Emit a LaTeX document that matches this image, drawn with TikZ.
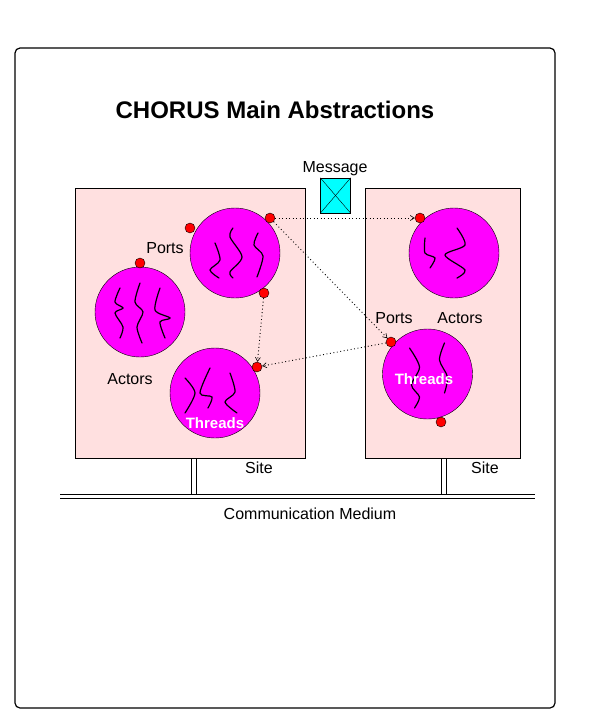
\documentclass[tikz,border=0pt]{standalone}
\usepackage{fontspec}
\setmainfont{Liberation Sans}
\usetikzlibrary{arrows.meta}

\definecolor{sitepink}{RGB}{255,224,224}
\definecolor{actormag}{RGB}{255,0,255}
\definecolor{portred}{RGB}{255,0,0}
\definecolor{msgcyan}{RGB}{0,255,255}

\tikzset{
  site/.style={draw,fill=sitepink,minimum width=230pt,minimum height=270pt,inner sep=0pt},
  actor/.style={circle,draw,fill=actormag,minimum size=90pt,inner sep=0pt},
  port/.style={circle,draw,fill=portred,minimum size=10pt,inner sep=0pt},
  thread/.style={line width=1.2pt,line cap=round},
  msgline/.style={line width=0.9pt,dash pattern=on 0.9pt off 2.6pt,-{Straight Barb[length=4pt,width=5pt,line width=0.6pt]}},
  lbl/.style={font=\fontsize{16}{18}\selectfont},
  threadlbl/.style={font=\fontsize{15}{17}\selectfont\bfseries,text=white},
}

\begin{document}
\begin{tikzpicture}[x=1pt,y=-1pt]
	\useasboundingbox (0,0) rectangle (595,723);

	% frame
	\draw[line width=1.2pt,rounded corners=5pt] (15,48) rectangle (555,708);
	\node[font=\fontsize{24}{28}\selectfont\bfseries] (title) at (275,110) {CHORUS Main Abstractions};

	% sites
	\node[site] (siteL) at (190,323) {};
	\node[site,minimum width=155pt] (siteR) at (442.5,323) {};

	% communication medium
	\draw (60,494) -- (535,494);
	\draw (60,498) -- (535,498);
	\draw (191,458) -- (191,494);
	\draw (196,458) -- (196,494);
	\draw (441,458) -- (441,494);
	\draw (446,458) -- (446,494);
	\node[lbl] (medium) at (310,514) {Communication Medium};
	\node[lbl] (siteLlbl) at (259,468) {Site};
	\node[lbl] (siteRlbl) at (485,468) {Site};

	% message
	\node[draw,fill=msgcyan,minimum width=30pt,minimum height=35pt,inner sep=0pt] (msg) at (335.5,195.5) {};
	\draw[thin] (msg.north west) -- (msg.south east);
	\draw[thin] (msg.north east) -- (msg.south west);
	\node[lbl] (msglbl) at (335,169) {Message};

	% actors
	\node[actor] (a1) at (235,253) {};
	\node[actor] (a2) at (140,312) {};
	\node[actor] (a3) at (215,393) {};
	\node[actor] (a4) at (454,253) {};
	\node[actor] (a5) at (427.5,374) {};

	% threads
	\begin{scope}[shift={(a1)}]
	  \draw[thread] plot[smooth] coordinates {(-20,-10) (-15,7) (-25,17) (-16,25)};
	  \draw[thread] plot[smooth] coordinates {(-2,-25) (-5,-16) (7,4) (-5,19) (-2,25)};
	  \draw[thread] plot[smooth] coordinates {(23,-20) (19,-8) (28,3) (22,24)};
	\end{scope}
	\begin{scope}[shift={(a2)}]
	  \draw[thread] plot[smooth] coordinates {(-20,-24) (-25,-10) (-17,-4) (-25,1) (-17,15) (-20,26)};
	  \draw[thread] plot[smooth] coordinates {(0,-29) (-5,-10) (3,0) (-3,15) (2,31)};
	  \draw[thread] plot[smooth] coordinates {(20,-24) (15,-2) (30,6) (20,10) (25,26)};
	\end{scope}
	\begin{scope}[shift={(a3)}]
	  \draw[thread] plot[smooth] coordinates {(-30,-15) (-20,0) (-30,20)};
	  \draw[thread] plot[smooth] coordinates {(-5,-25) (-15,0) (-3,4) (-7,15)};
	  \draw[thread] plot[smooth] coordinates {(15,-20) (20,-1) (10,9) (22,20)};
	\end{scope}
	\begin{scope}[shift={(a4)}]
	  \draw[thread] plot[smooth] coordinates {(-29,-15) (-29,0) (-19,5) (-24,15)};
	  \draw[thread] plot[smooth] coordinates {(3,-25) (11,-8) (-9,2) (11,17) (3,25)};
	\end{scope}
	\begin{scope}[shift={(a5)}]
	  \draw[thread] plot[smooth] coordinates {(-18,-26) (-8,-7) (-16,11) (-8,23) (-13,34)};
	  \draw[thread] plot[smooth] coordinates {(17,-31) (12,-14) (20,3) (17,19)};
	\end{scope}

	% ports
	\node[port] (p1) at (190,228) {};
	\node[port] (p2) at (270,218) {};
	\node[port] (p3) at (264,293) {};
	\node[port] (p4) at (140,263) {};
	\node[port] (p5) at (257,367) {};
	\node[port] (p6) at (420,218) {};
	\node[port] (p7) at (391,342) {};
	\node[port] (p8) at (441,422) {};

	% messages between ports
	\draw[msgline] (p2) -- (p6);
	\draw[msgline] (p2) -- (p7);
	\draw[msgline] (p3) -- (p5);
	\draw[msgline] (p7) -- (p5);

	% labels
	\node[lbl] (portsL) at (165,248) {Ports};
	\node[lbl] (actorsL) at (130,379) {Actors};
	\node[threadlbl] (threadsL) at (215,423) {Threads};
	\node[lbl] (portsR) at (394,318) {Ports};
	\node[lbl] (actorsR) at (460,318) {Actors};
	\node[threadlbl] (threadsR) at (424,379) {Threads};

\end{tikzpicture}
\end{document}
